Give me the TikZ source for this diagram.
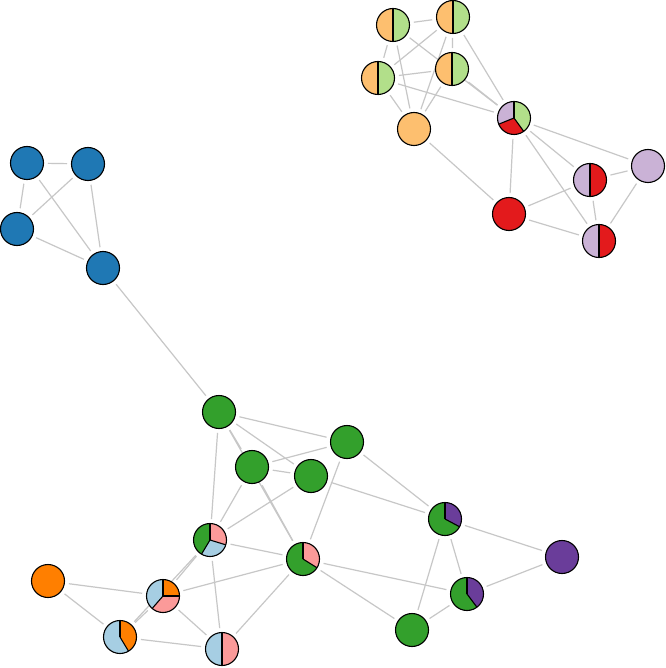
\documentclass[tikz,border=0pt]{standalone}
\definecolor{lorange}{HTML}{FDBF6F}
\definecolor{lgreen}{HTML}{B2DF8A}
\definecolor{lavender}{HTML}{CAB2D6}
\definecolor{dred}{HTML}{E31A1C}
\definecolor{dblue}{HTML}{1F78B4}
\definecolor{dgreen}{HTML}{33A02C}
\definecolor{lblue}{HTML}{A6CEE3}
\definecolor{lpink}{HTML}{FB9A99}
\definecolor{dorange}{HTML}{FF7F00}
\definecolor{dpurple}{HTML}{6A3D9A}
\tikzset{
  vert/.style={circle, minimum size=33pt, inner sep=0pt, outer sep=0pt},
  edge/.style={draw=black!22, line width=1.2pt, shorten <=4.5pt, shorten >=4.5pt},
  rim/.style={draw=black, line width=1.1pt},
}
\newcommand\slc[4]{%
  \fill[#4] (#1.center) -- ++(#2:16.5pt) arc[start angle=#2, end angle=#3, radius=16.5pt] -- cycle;}
\newcommand\cut[2]{\draw[rim] (#1.center) -- ++(#2:16.5pt);}
\newcommand\rimc[1]{\draw[rim] (#1.center) circle[radius=16.5pt];}
\newcommand\full[2]{\fill[#2] (#1.center) circle[radius=16.5pt]; \rimc{#1}}
\newcommand\half[3]{\slc{#1}{90}{270}{#2}\slc{#1}{-90}{90}{#3}\cut{#1}{90}\cut{#1}{-90}\rimc{#1}}
\begin{document}
\begin{tikzpicture}[x=1pt,y=-1pt]
\useasboundingbox (0,0) rectangle (665,668);
\fill[white] (0,0) rectangle (665,668);
% nodes
\node[vert] (A1) at (393,25) {};
\node[vert] (A2) at (453,17) {};
\node[vert] (A3) at (378,78) {};
\node[vert] (A4) at (452,69) {};
\node[vert] (A5) at (414,129) {};
\node[vert] (A6) at (514,118) {};
\node[vert] (A7) at (590,180) {};
\node[vert] (A8) at (648,166) {};
\node[vert] (A9) at (509,214) {};
\node[vert] (A10) at (599,241) {};
\node[vert] (B1) at (27,163) {};
\node[vert] (B2) at (88,164) {};
\node[vert] (B3) at (17,229) {};
\node[vert] (B4) at (103,268) {};
\node[vert] (G1) at (219,412) {};
\node[vert] (G2) at (347,442) {};
\node[vert] (G3) at (252,467) {};
\node[vert] (G4) at (311,476) {};
\node[vert] (P1) at (210,540) {};
\node[vert] (P2) at (303,559) {};
\node[vert] (O1) at (48,581) {};
\node[vert] (P3) at (163,596) {};
\node[vert] (P4) at (120,637) {};
\node[vert] (P5) at (222,649) {};
\node[vert] (Q1) at (445,519) {};
\node[vert] (Q2) at (562,557) {};
\node[vert] (Q3) at (467,594) {};
\node[vert] (Q4) at (412,630) {};
% edges
\foreach \a/\b in {A1/A2,A1/A3,A1/A5,A1/A6,A4/A6,A2/A3,A2/A4,A2/A5,A2/A6,A3/A4,A3/A5,A3/A6,A4/A5,A5/A9,A6/A9,A6/A7,A6/A8,A6/A10,A7/A8,A7/A9,A7/A10,A8/A10,A9/A10,
  B1/B2,B1/B3,B1/B4,B2/B3,B2/B4,B3/B4,B4/G1,
  G1/G2,G1/G3,G1/P2,G3/P2,G1/G4,G1/P1,G2/G3,G3/G4,G2/P2,G2/Q1,G4/Q1,G3/P1,G4/P1,P1/P2,P1/P3,P1/P4,P3/P4,P1/P5,P2/P3,P2/P5,O1/P3,O1/P4,P3/P5,P4/P5,P2/Q3,P2/Q4,Q1/Q2,Q1/Q3,Q1/Q4,Q3/Q2,Q3/Q4}
  \draw[edge] (\a) -- (\b);
% node fills
\half{A1}{lorange}{lgreen}
\half{A2}{lorange}{lgreen}
\half{A3}{lorange}{lgreen}
\half{A4}{lorange}{lgreen}
\full{A5}{lorange}
\slc{A6}{90}{-54}{lgreen}\slc{A6}{-54}{-158}{dred}\slc{A6}{-158}{-270}{lavender}
\cut{A6}{90}\cut{A6}{-54}\cut{A6}{-158}\rimc{A6}
\half{A7}{lavender}{dred}
\full{A8}{lavender}
\full{A9}{dred}
\half{A10}{lavender}{dred}
\full{B1}{dblue}
\full{B2}{dblue}
\full{B3}{dblue}
\full{B4}{dblue}
\full{G1}{dgreen}
\full{G2}{dgreen}
\full{G3}{dgreen}
\full{G4}{dgreen}
\slc{P1}{90}{-17}{lpink}\slc{P1}{-17}{-121}{lblue}\slc{P1}{-121}{-270}{dgreen}
\cut{P1}{90}\cut{P1}{-17}\cut{P1}{-121}\rimc{P1}
\slc{P2}{90}{-32}{lpink}\slc{P2}{-32}{-270}{dgreen}
\cut{P2}{90}\cut{P2}{-32}\rimc{P2}
\full{O1}{dorange}
\slc{P3}{90}{0}{dorange}\slc{P3}{0}{-131}{lpink}\slc{P3}{-131}{-270}{lblue}
\cut{P3}{90}\cut{P3}{0}\cut{P3}{-131}\rimc{P3}
\slc{P4}{90}{-59}{dorange}\slc{P4}{-59}{-270}{lblue}
\cut{P4}{90}\cut{P4}{-59}\rimc{P4}
\half{P5}{lblue}{lpink}
\slc{Q1}{90}{-28}{dpurple}\slc{Q1}{-28}{-270}{dgreen}
\cut{Q1}{90}\cut{Q1}{-28}\rimc{Q1}
\full{Q2}{dpurple}
\slc{Q3}{90}{-53}{dpurple}\slc{Q3}{-53}{-270}{dgreen}
\cut{Q3}{90}\cut{Q3}{-53}\rimc{Q3}
\full{Q4}{dgreen}
\end{tikzpicture}
\end{document}
